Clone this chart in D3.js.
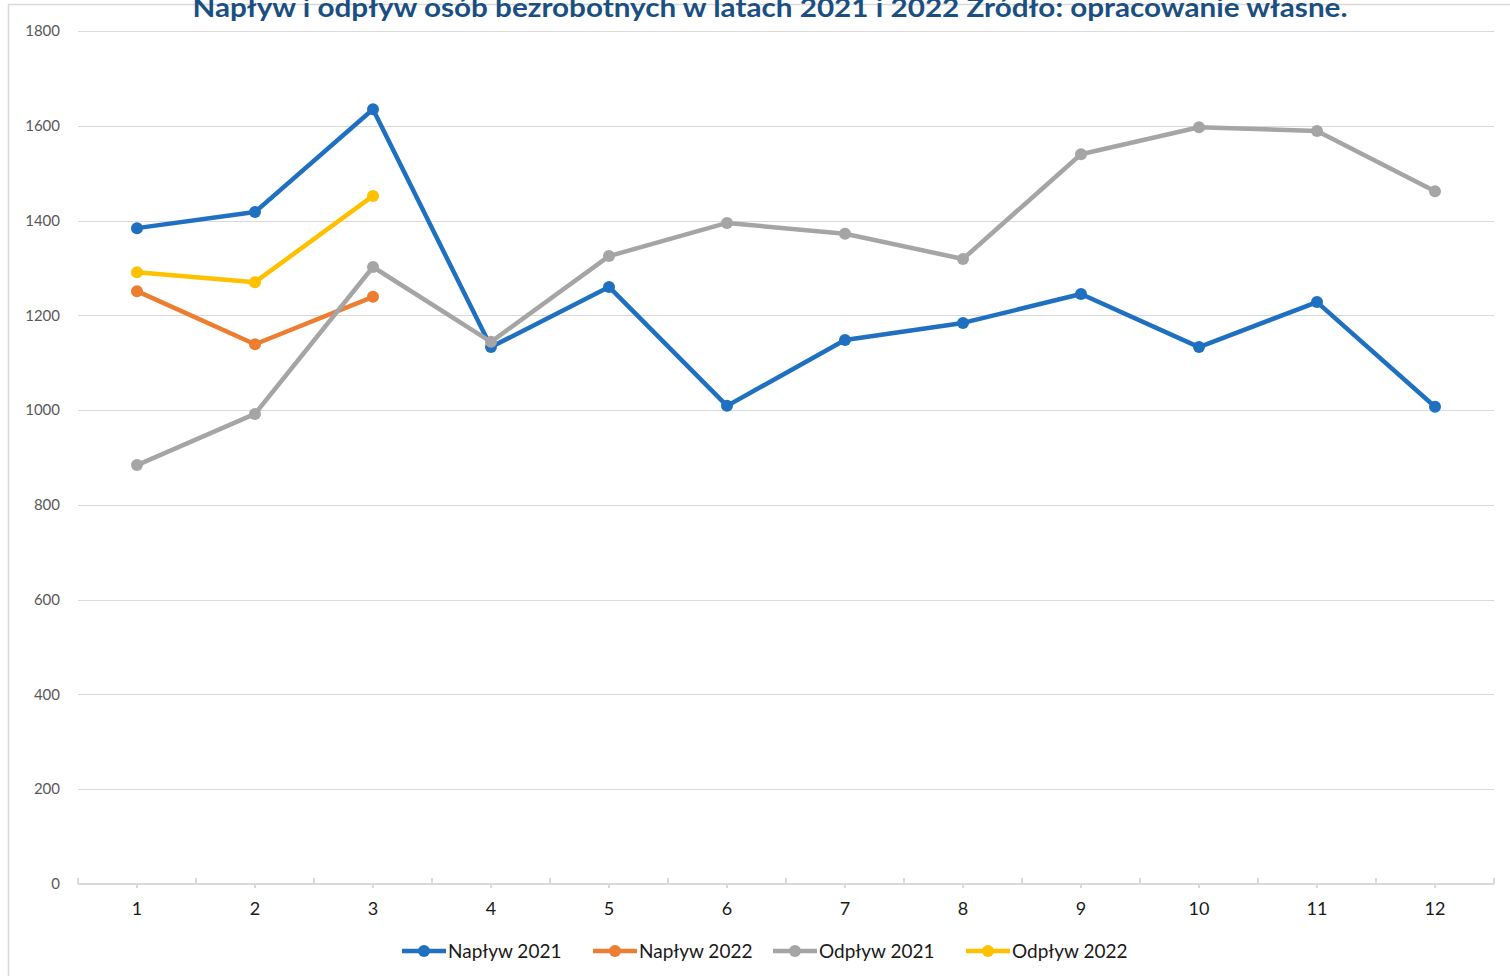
<!DOCTYPE html>
<html>
<head>
<meta charset="utf-8">
<script src="https://cdn.jsdelivr.net/npm/d3@7"></script>
<style>
  body { margin: 0; background: #fff; }
  svg { display: block; font-family: Lato, "Open Sans", sans-serif; }
</style>
</head>
<body>
<svg id="main" width="1510" height="976"></svg>
<script>
// months
var months = [1, 2, 3, 4, 5, 6, 7, 8, 9, 10, 11, 12];

var naplyw2021 = [1384, 1418, 1635, 1133, 1260, 1009, 1148, 1184, 1245, 1133, 1228, 1007];
var naplyw2022 = [1251, 1139, 1239];
var odplyw2021 = [884, 992, 1302, 1144, 1325, 1395, 1372, 1319, 1540, 1597, 1589, 1462];
var odplyw2022 = [1291, 1270, 1452];

var seriesNames = ['Napływ 2021', 'Napływ 2022', 'Odpływ 2021', 'Odpływ 2022'];
var seriesColors = ['#1f70c1', '#ed7d31', '#a5a5a5', '#ffc000'];
var yTicks = [0, 200, 400, 600, 800, 1000, 1200, 1400, 1600, 1800];

var titleText = 'Napływ i odpływ osób bezrobotnych w latach 2021 i 2022 Źródło: opracowanie własne.';

var series = [naplyw2021, naplyw2022, odplyw2021, odplyw2022].map(function(vals, i) {
    return {
        name: seriesNames[i],
        color: seriesColors[i],
        points: vals.map(function(v, j) { return {m: months[j], v: v}; })
    };
});

const svg = d3.select('svg#main');
const plotLeft = 78, plotRight = 1494, plotTop = 31, plotBottom = 884;

var x = d3.scaleBand().domain(months).range([plotLeft, plotRight]);
var y = d3.scaleLinear().domain([0, 1800]).range([plotBottom, plotTop]);

// chart border (top and left edges visible)
svg.append('path')
    .attr('d', 'M 8.5,976 L 8.5,4.5 L 1510,4.5')
    .attr('fill', 'none')
    .attr('stroke', '#d9d9d9')
    .attr('stroke-width', 1.5);

// title (cut off at the top, as in the original)
svg.append('text')
    .attr('x', 770)
    .attr('y', 17)
    .attr('text-anchor', 'middle')
    .attr('textLength', 1155)
    .attr('lengthAdjust', 'spacingAndGlyphs')
    .attr('fill', '#1b4f82')
    .attr('font-weight', 'bold')
    .attr('font-size', 26)
    .text(titleText);

// gridlines
svg.append('g')
    .selectAll('line').data(yTicks.slice(1))
    .join('line')
    .attr('x1', plotLeft).attr('x2', plotRight)
    .attr('y1', d => Math.round(y(d)) + 0.5).attr('y2', d => Math.round(y(d)) + 0.5)
    .attr('stroke', '#d9d9d9')
    .attr('stroke-width', 1.2);

// y axis labels
svg.append('g')
    .selectAll('text').data(yTicks)
    .join('text')
    .attr('x', 60)
    .attr('y', d => y(d))
    .attr('dy', '0.35em')
    .attr('text-anchor', 'end')
    .attr('fill', '#595959')
    .attr('font-size', 15)
    .text(d => d);

// x axis line and ticks
var xAxis = svg.append('g');
xAxis.append('line')
    .attr('x1', plotLeft).attr('x2', plotRight)
    .attr('y1', plotBottom).attr('y2', plotBottom)
    .attr('stroke', '#d9d9d9')
    .attr('stroke-width', 2);
var bounds = months.map(m => x(m)).concat([plotRight]);
xAxis.selectAll('line.major').data(bounds)
    .join('line').attr('class', 'major')
    .attr('x1', d => d).attr('x2', d => d)
    .attr('y1', plotBottom - 6).attr('y2', plotBottom)
    .attr('stroke', '#d9d9d9')
    .attr('stroke-width', 2);
xAxis.selectAll('line.minor').data(months)
    .join('line').attr('class', 'minor')
    .attr('x1', d => x(d) + x.bandwidth() / 2).attr('x2', d => x(d) + x.bandwidth() / 2)
    .attr('y1', plotBottom).attr('y2', plotBottom + 4)
    .attr('stroke', '#d9d9d9')
    .attr('stroke-width', 2);
xAxis.selectAll('text').data(months)
    .join('text')
    .attr('x', d => x(d) + x.bandwidth() / 2)
    .attr('y', 915)
    .attr('text-anchor', 'middle')
    .attr('fill', '#1a1a1a')
    .attr('font-size', 18)
    .text(d => d);

// lines
var line = d3.line()
    .x(d => x(d.m) + x.bandwidth() / 2)
    .y(d => y(d.v));

var sg = svg.append('g')
    .selectAll('g').data(series)
    .join('g');
sg.append('path')
    .attr('d', s => line(s.points))
    .attr('fill', 'none')
    .attr('stroke', s => s.color)
    .attr('stroke-width', 4.5)
    .attr('stroke-linejoin', 'round');
sg.selectAll('circle').data(s => s.points.map(p => ({p: p, color: s.color})))
    .join('circle')
    .attr('cx', d => x(d.p.m) + x.bandwidth() / 2)
    .attr('cy', d => y(d.p.v))
    .attr('r', 6)
    .attr('fill', d => d.color);

// legend
var legendX = [402, 593, 773, 966];
var lg = svg.append('g')
    .selectAll('g').data(series)
    .join('g')
    .attr('transform', (s, i) => `translate(${legendX[i]}, 951)`);
lg.append('line')
    .attr('x1', 0).attr('x2', 44)
    .attr('stroke', s => s.color)
    .attr('stroke-width', 4.5);
lg.append('circle')
    .attr('cx', 22).attr('r', 6)
    .attr('fill', s => s.color);
lg.append('text')
    .attr('x', 46)
    .attr('dy', '0.35em')
    .attr('fill', '#1a1a1a')
    .attr('font-size', 19)
    .text(s => s.name);
</script>
</body>
</html>
